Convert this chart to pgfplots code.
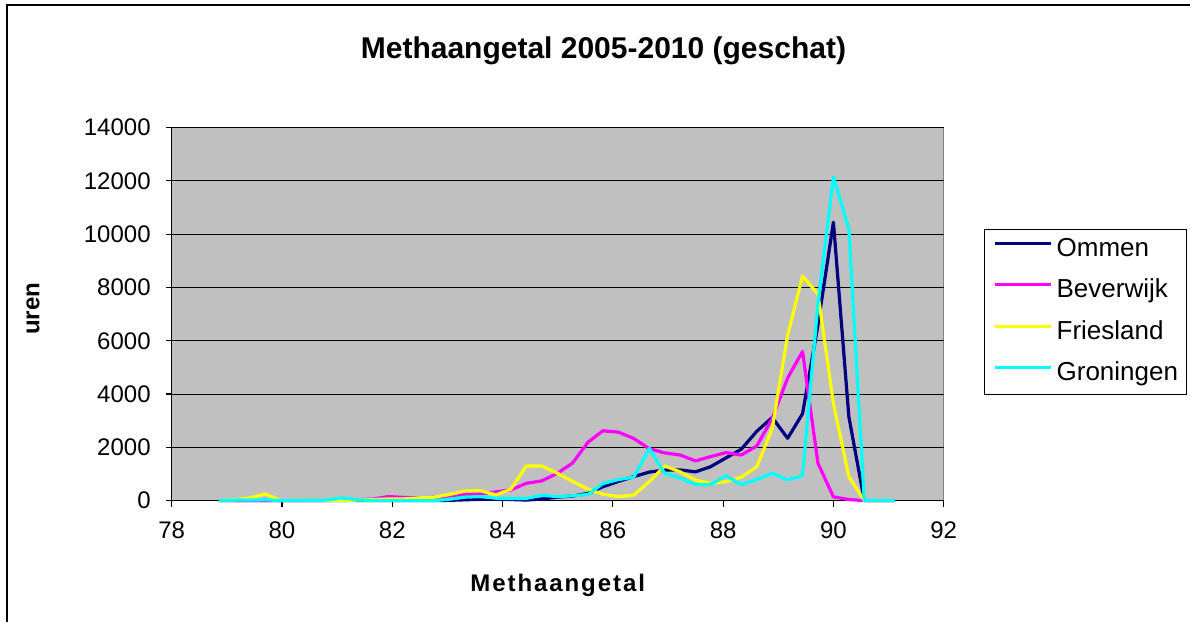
\documentclass[border=0pt]{standalone}
\usepackage{fontspec}
\setmainfont{Liberation Sans}
\usepackage{pgfplots}
\usepackage{pgfplotstable}
\pgfplotsset{compat=1.18}
\definecolor{xlnavy}{HTML}{000080}
\definecolor{xlmagenta}{HTML}{FF00FF}
\definecolor{xlyellow}{HTML}{FFFF00}
\definecolor{xlcyan}{HTML}{00FFFF}
\definecolor{xlsilver}{HTML}{C0C0C0}
\definecolor{xlgray}{HTML}{808080}

% uren per methaangetal-klasse, per meetpunt
\pgfplotstableread{
x om bev fr gr
78.86 0 0 0 0
79.14 0 0 30 20
79.42 0 0 100 20
79.70 0 0 250 30
79.98 0 0 0 0
80.26 0 0 0 0
80.53 0 0 0 0
80.81 0 0 0 20
81.09 0 20 0 100
81.37 0 30 20 30
81.65 0 60 40 0
81.93 0 150 60 0
82.20 0 120 60 0
82.48 0 100 100 0
82.76 0 130 130 0
83.04 10 180 230 50
83.32 30 230 360 130
83.60 50 250 370 150
83.88 60 330 210 90
84.15 40 400 430 80
84.43 20 650 1300 80
84.71 60 740 1300 200
84.99 130 1020 1030 150
85.27 170 1410 720 180
85.55 270 2190 430 230
85.82 520 2620 240 640
86.10 720 2570 150 790
86.38 900 2330 210 880
86.66 1070 1950 710 1960
86.94 1150 1790 1300 1020
87.22 1150 1710 1080 850
87.50 1080 1490 770 600
87.77 1270 1650 650 600
88.05 1600 1800 710 930
88.33 1930 1710 880 600
88.61 2600 2050 1270 790
88.89 3120 3080 2700 1020
89.17 2340 4600 6200 780
89.44 3260 5600 8430 930
89.72 6600 1400 7750 7400
90.00 10450 140 3650 12150
90.28 3150 40 900 10200
90.56 0 0 0 0
90.84 0 0 0 0
91.11 0 0 0 0
}\methaan

\begin{document}
\begin{tikzpicture}
\path[use as bounding box] (0,0) rectangle (595pt,311pt);
\draw[line width=0.8pt] (3.5pt,0) -- (3.5pt,308.5pt) -- (595pt,308.5pt);
\begin{axis}[
  at={(85.85pt,60.7pt)}, anchor=south west,
  scale only axis, width=386pt, height=186.5pt,
  xmin=78, xmax=92, ymin=0, ymax=14000,
  xtick={78,80,...,92}, ytick={0,2000,...,14000},
  scaled y ticks=false,
  axis lines*=left,
  axis line style={black, line width=0.6pt},
  axis background/.style={fill=xlsilver, draw=xlgray, line width=0.6pt},
  tick align=outside, major tick length=3pt,
  tick style={black, line width=0.6pt},
  ymajorgrids, major grid style={black, line width=0.5pt},
  /pgf/number format/.cd, 1000 sep={}, assume math mode=true, /pgfplots/.cd,
  tick label style={font=\fontsize{12}{14}\selectfont},
  xticklabel style={yshift=-4pt},
  yticklabel style={xshift=-4pt},
  title={Methaangetal 2005-2010 (geschat)},
  title style={font=\fontsize{15}{18}\selectfont\bfseries, at={(axis description cs:0.5593,1.152)}, anchor=base},
  xlabel={\addfontfeature{LetterSpace=8}Methaangetal},
  xlabel style={font=\fontsize{12}{14}\selectfont\bfseries, at={(axis description cs:0.5,-0.2263)}, anchor=center},
  ylabel={uren},
  ylabel style={font=\fontsize{12}{14}\selectfont\bfseries, at={(axis description cs:-0.1797,0.514)}, anchor=center},
  legend style={at={(axis description cs:1.052,0.728)}, anchor=north west,
    draw=black, line width=0.6pt, fill=white,
    font=\fontsize{13}{15}\selectfont,
    inner xsep=4.3pt, inner ysep=4.4pt, row sep=9.2pt,
    nodes={inner sep=0pt, text height=9pt, text depth=2.5pt},
    cells={anchor=west},
    /tikz/every odd column/.append style={column sep=1.9pt}},
  legend image code/.code={\draw[#1] (0pt,3.3pt) -- (28.3pt,3.3pt);},
  clip=false,
  every axis plot/.append style={line width=1.6pt, line join=round},
]
\addplot[xlnavy] table[x=x, y=om] {\methaan};
\addplot[xlmagenta] table[x=x, y=bev] {\methaan};
\addplot[xlyellow] table[x=x, y=fr] {\methaan};
\addplot[xlcyan] table[x=x, y=gr] {\methaan};
\legend{Ommen,Beverwijk,Friesland,Groningen}
\end{axis}
\end{tikzpicture}
\end{document}
